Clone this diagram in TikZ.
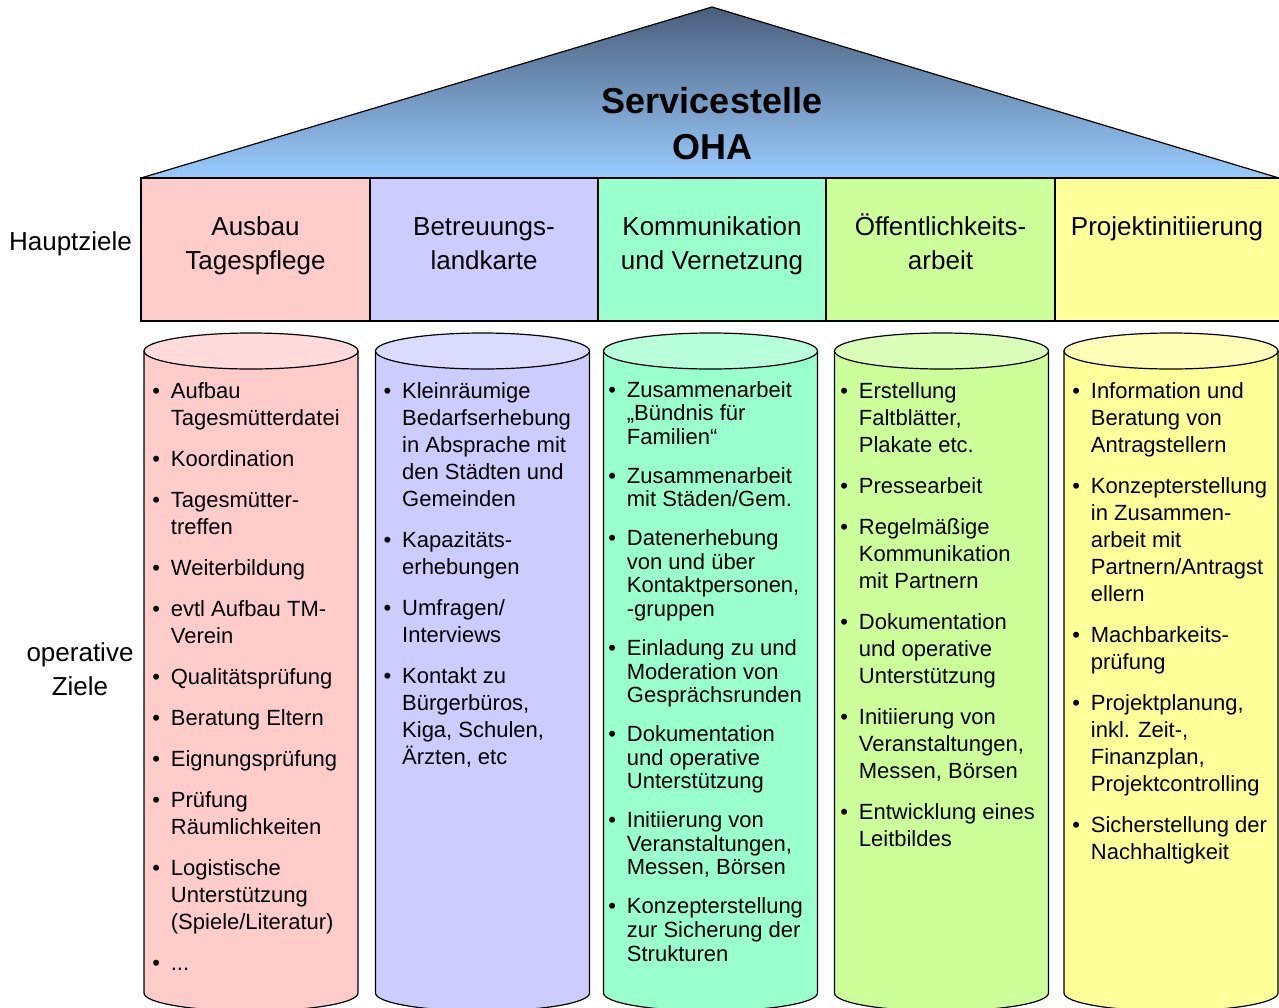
\documentclass[tikz,border=0pt]{standalone}
\usepackage{fontspec}
\setmainfont{Liberation Sans}
\definecolor{pinkC}{HTML}{FFCCCC}
\definecolor{lavC}{HTML}{CCCCFF}
\definecolor{mintC}{HTML}{99FFCC}
\definecolor{limeC}{HTML}{CCFF99}
\definecolor{yelC}{HTML}{FFFF99}
\definecolor{roofTop}{HTML}{4A5E7A}
\definecolor{roofBot}{HTML}{99CCFF}
\newcommand{\cylbul}{\makebox[18.5pt][l]{\textbullet}}
\tikzset{
  outl/.style={draw=black, line width=1.2pt},
  htxt/.style={anchor=base, inner sep=0pt, font=\fontsize{26}{34}\selectfont},
  ltxt/.style={anchor=base west, inner sep=0pt, font=\fontsize{22}{27}\selectfont},
  ltxtc/.style={anchor=base west, inner sep=0pt, font=\fontsize{22}{23.7}\selectfont},
}
\newcommand{\cyl}[3]{% cx, colour, name
  \fill[#2] (#1-107,351) -- (#1-107,993) arc[start angle=180, end angle=360, x radius=107pt, y radius=18pt]
    -- (#1+107,351) arc[start angle=0, end angle=180, x radius=107pt, y radius=18pt] -- cycle;
  \draw[line width=1.2pt] (#1-107,351) -- (#1-107,993) arc[start angle=180, end angle=360, x radius=107pt, y radius=18pt]
    -- (#1+107,351);
  \draw[outl, fill=#2!70!white] (#1,351) ellipse[x radius=107pt, y radius=18pt];
  \coordinate (#3) at (#1,351);
}
\begin{document}
\begin{tikzpicture}[x=1pt,y=-1pt]
\useasboundingbox (0,0) rectangle (1279,1007);
\clip (0,0) rectangle (1279,1007);
\fill[white] (0,0) rectangle (1279,1007);

% roof
\shade[top color=roofTop, bottom color=roofBot] (141,178) -- (712,7) -- (1279,178) -- cycle;
\draw[outl, line join=miter] (141,178) -- (712,7) -- (1279,178);
\node[anchor=base, inner sep=0pt, font=\fontsize{36}{46}\selectfont\bfseries] (title)
  at (712,113) {\begin{tabular}[t]{@{}c@{}}Servicestelle\\ OHA\end{tabular}};

% header boxes
\draw[outl, fill=pinkC] (141,178) rectangle (370,321);
\draw[outl, fill=lavC] (370,178) rectangle (598,321);
\draw[outl, fill=mintC] (598,178) rectangle (826,321);
\draw[outl, fill=limeC] (826,178) rectangle (1055,321);
\draw[outl, fill=yelC] (1055,178) rectangle (1279.5,321);

\node[htxt] (h1) at (255.5,235) {\begin{tabular}[t]{@{}c@{}}Ausbau\\ Tagespflege\end{tabular}};
\node[htxt] (h2) at (484,235) {\begin{tabular}[t]{@{}c@{}}Betreuungs-\\ landkarte\end{tabular}};
\node[htxt] (h3) at (712,235) {\begin{tabular}[t]{@{}c@{}}Kommunikation\\ und Vernetzung\end{tabular}};
\node[htxt] (h4) at (940.5,235) {\begin{tabular}[t]{@{}c@{}}Öffentlichkeits-\\ arbeit\end{tabular}};
\node[htxt] (h5) at (1167,235) {\begin{tabular}[t]{@{}c@{}}Projektinitiierung\end{tabular}};

\node[htxt] (hz) at (70.5,250) {Hauptziele};
\node[htxt] (oz) at (80,661) {\begin{tabular}[t]{@{}c@{}}operative\\ Ziele\end{tabular}};

% cylinders
\cyl{251}{pinkC}{c1}
\cyl{482.5}{lavC}{c2}
\cyl{710.5}{mintC}{c3}
\cyl{941.5}{limeC}{c4}
\cyl{1171}{yelC}{c5}

\node[ltxt] (l1) at (152.2,398) {\begin{tabular}[t]{@{}l@{}l@{}}
\cylbul & Aufbau\\ & Tagesmütterdatei\\[14pt]
\cylbul & Koordination\\[14pt]
\cylbul & Tagesmütter-\\ & treffen\\[14pt]
\cylbul & Weiterbildung\\[14pt]
\cylbul & evtl Aufbau TM-\\ & Verein\\[14pt]
\cylbul & Qualitätsprüfung\\[14pt]
\cylbul & Beratung Eltern\\[14pt]
\cylbul & Eignungsprüfung\\[14pt]
\cylbul & Prüfung\\ & Räumlichkeiten\\[14pt]
\cylbul & Logistische\\ & Unterstützung\\ & (Spiele/Literatur)\\[14pt]
\cylbul & ...
\end{tabular}};

\node[ltxt] (l2) at (383.5,398) {\begin{tabular}[t]{@{}l@{}l@{}}
\cylbul & Kleinräumige\\ & Bedarfserhebung\\ & in Absprache mit\\ & den Städten und\\ & Gemeinden\\[14pt]
\cylbul & Kapazitäts-\\ & erhebungen\\[14pt]
\cylbul & Umfragen/\\ & Interviews\\[14pt]
\cylbul & Kontakt zu\\ & Bürgerbüros,\\ & Kiga, Schulen,\\ & Ärzten, etc
\end{tabular}};

\node[ltxtc] (l3) at (608.2,397) {\begin{tabular}[t]{@{}l@{}l@{}}
\cylbul & Zusammenarbeit\\ & „Bündnis für\\ & Familien“\\[15pt]
\cylbul & Zusammenarbeit\\ & mit Städen/Gem.\\[15pt]
\cylbul & Datenerhebung\\ & von und über\\ & Kontaktpersonen,\\ & -gruppen\\[15pt]
\cylbul & Einladung zu und\\ & Moderation von\\ & Gesprächsrunden\\[15pt]
\cylbul & Dokumentation\\ & und operative\\ & Unterstützung\\[15pt]
\cylbul & Initiierung von\\ & Veranstaltungen,\\ & Messen, Börsen\\[15pt]
\cylbul & Konzepterstellung\\ & zur Sicherung der\\ & Strukturen
\end{tabular}};

\node[ltxt] (l4) at (840.2,398) {\begin{tabular}[t]{@{}l@{}l@{}}
\cylbul & Erstellung\\ & Faltblätter,\\ & Plakate etc.\\[14pt]
\cylbul & Pressearbeit\\[14pt]
\cylbul & Regelmäßige\\ & Kommunikation\\ & mit Partnern\\[14pt]
\cylbul & Dokumentation\\ & und operative\\ & Unterstützung\\[14pt]
\cylbul & Initiierung von\\ & Veranstaltungen,\\ & Messen, Börsen\\[14pt]
\cylbul & Entwicklung eines\\ & Leitbildes
\end{tabular}};

\node[ltxt] (l5) at (1072.2,398) {\begin{tabular}[t]{@{}l@{}l@{}}
\cylbul & Information und\\ & Beratung von\\ & Antragstellern\\[14pt]
\cylbul & Konzepterstellung\\ & in Zusammen-\\ & arbeit mit\\ & Partnern/Antragst\\ & ellern\\[14pt]
\cylbul & Machbarkeits-\\ & prüfung\\[14pt]
\cylbul & Projektplanung,\\ & inkl. Zeit-,\\ & Finanzplan,\\ & Projektcontrolling\\[14pt]
\cylbul & Sicherstellung der\\ & Nachhaltigkeit
\end{tabular}};
\end{tikzpicture}
\end{document}
